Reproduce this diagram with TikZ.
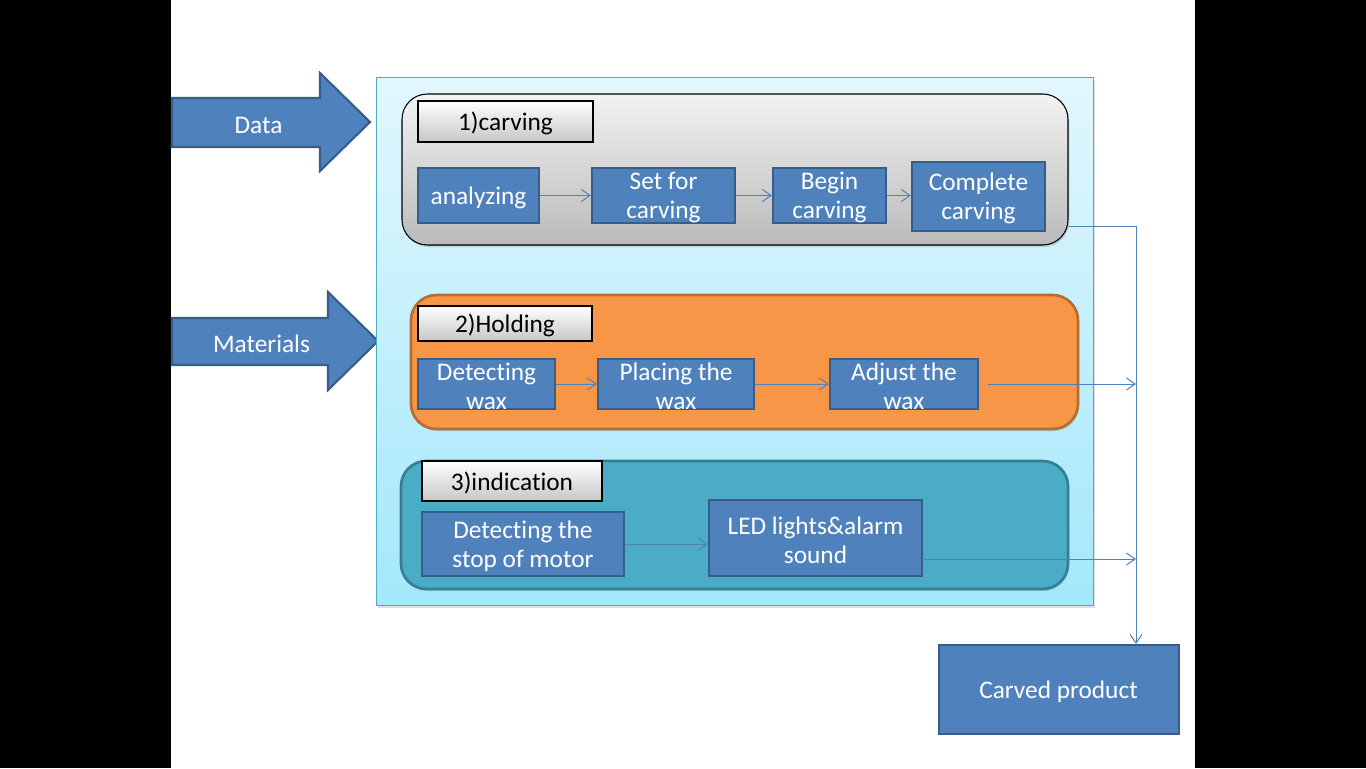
\documentclass[tikz,border=0pt]{standalone}
\usepackage{fontspec}
\setmainfont{Carlito}[Ligatures=NoCommon]
\usetikzlibrary{arrows.meta,shadows,fit}
\definecolor{boxblue}{HTML}{4F81BD}
\definecolor{boxedge}{HTML}{385D8A}
\definecolor{lbtop}{HTML}{E2F7FD}
\definecolor{lbbot}{HTML}{A3E8FB}
\definecolor{lbedge}{HTML}{4BACC6}
\definecolor{holdfill}{HTML}{F79646}
\definecolor{holdedge}{HTML}{B66D31}
\definecolor{indfill}{HTML}{4BACC6}
\definecolor{indedge}{HTML}{357F93}
\definecolor{connc}{HTML}{4F81BD}
\begin{document}
\begin{tikzpicture}[x=0.75pt,y=-0.75pt,
  proc/.style={draw=boxedge, fill=boxblue, line width=1.6pt, inner sep=0pt},
  txt/.style={text=white, align=center, font=\fontsize{19}{21.75}\selectfont, inner sep=0pt, yshift=-1.5pt},
  ttl/.style={draw=black, line width=0.8pt, top color=white, bottom color=black!22, inner sep=0pt,
     drop shadow={shadow xshift=1pt, shadow yshift=-1pt, opacity=0.35}},
  ttltxt/.style={text=black, font=\fontsize{19}{21.75}\selectfont, inner sep=0pt, yshift=-1.5pt},
  conn/.style={draw=connc, line width=0.75pt, -{Straight Barb[length=6.5pt,width=9pt]}},
  bigarrow/.style={fill=boxblue, draw=boxedge, line width=1.6pt, line join=miter},
]
\fill[black] (0,0) rectangle (1366,768);
\fill[white] (171,0) rectangle (1195,768);
\useasboundingbox (0,0) rectangle (1366,768);

% input arrows
\draw[bigarrow] (172,98) -- (320,98) -- (320,73) -- (370,122) -- (320,171) -- (320,147) -- (172,147) -- cycle;
\node[txt] (data) at (258.5,123) {Data};
\draw[bigarrow] (172,318) -- (328,318) -- (328,292) -- (378,341) -- (328,390) -- (328,365) -- (172,365) -- cycle;
\node[txt] (mat) at (261.5,342) {Materials};

% big container
\node[fit={(376,77) (1093,605)}, inner sep=0pt, draw=lbedge, line width=0.75pt,
      top color=lbtop, bottom color=lbbot,
      drop shadow={shadow xshift=1.5pt, shadow yshift=-2pt, opacity=0.25}] (main) {};

% group 1
\node[fit={(402,94) (1068,245)}, inner sep=0pt, rounded corners=19pt, draw=black, line width=0.8pt,
      top color=black!5, bottom color=black!27,
      drop shadow={shadow xshift=1pt, shadow yshift=-1.5pt, opacity=0.3}] (carving) {};
\node[ttl, fit={(418,101) (593,142)}] (t1) {};
\node[ttltxt] (t1txt) at (t1.center) {1)carving};

\node[proc, fit={(418,168) (539,223)}] (an) {};
\node[txt] (antxt) at (an.center) {analyzing};
\node[proc, fit={(592,168) (735,223)}] (sfc) {};
\node[txt] (sfctxt) at (sfc.center) {Set for\\carving};
\node[proc, fit={(773,168) (886,223)}] (bc) {};
\node[txt] (bctxt) at (bc.center) {Begin\\carving};
\node[proc, fit={(912,162) (1045,231)}] (cc) {};
\node[txt] (cctxt) at (cc.center) {Complete\\carving};

% group 2
\node[fit={(411,295) (1078,429)}, inner sep=0pt, rounded corners=19pt, draw=holdedge, line width=2pt,
      fill=holdfill, drop shadow={shadow xshift=1pt, shadow yshift=-1.5pt, opacity=0.3}] (holding) {};
\node[ttl, fit={(418,306) (592,341)}] (t2) {};
\node[ttltxt] (t2txt) at (t2.center) {2)Holding};

\node[proc, fit={(418,359) (555,409)}] (dw) {};
\node[txt] (dwtxt) at (dw.center) {Detecting\\wax};
\node[proc, fit={(598,359) (754,409)}] (pw) {};
\node[txt] (pwtxt) at (pw.center) {Placing the\\wax};
\node[proc, fit={(830,359) (978,409)}] (aw) {};
\node[txt] (awtxt) at (aw.center) {Adjust the\\wax};

% group 3
\node[fit={(401,461) (1068,589)}, inner sep=0pt, rounded corners=19pt, draw=indedge, line width=2pt,
      fill=indfill, drop shadow={shadow xshift=1pt, shadow yshift=-1.5pt, opacity=0.3}] (indic) {};
\node[ttl, fit={(422,461) (602,501)}] (t3) {};
\node[ttltxt] (t3txt) at (t3.center) {3)indication};

\node[proc, fit={(422,512) (624,576)}] (ds) {};
\node[txt] (dstxt) at (ds.center) {Detecting the\\stop of motor};
\node[proc, fit={(709,500) (922,576)}] (led) {};
\node[txt] (ledtxt) at (led.center) {LED lights\&alarm\\sound};

% output
\node[proc, fit={(939,645) (1179,734)}] (cp) {};
\node[txt] (cptxt) at (1058.5,690) {Carved product};

% connectors
\draw[conn] (an.east) -- (sfc.west);
\draw[conn] (sfc.east) -- (bc.west);
\draw[conn] (bc.east) -- (bc.east -| cc.west);
\draw[conn] (dw.east) -- (pw.west);
\draw[conn] (pw.east) -- (aw.west);
\draw[conn] (ds.east) -- (ds.east -| led.west);

\coordinate (bus) at (1136,226);
\draw[conn] (carving.east |- bus) -- (bus) -- (bus |- cp.north);
\draw[conn] ([xshift=6.75pt]aw.east) -- (aw.east -| bus);
\coordinate (ledout) at (922,559);
\draw[conn] (ledout) -- (ledout -| bus);
\end{tikzpicture}
\end{document}
